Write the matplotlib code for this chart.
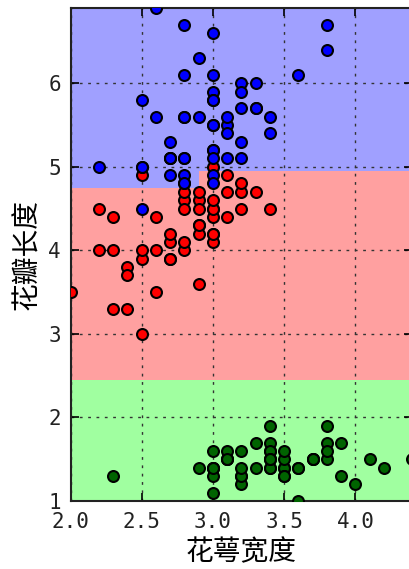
import numpy as np
import matplotlib
matplotlib.use('Agg')
import matplotlib.pyplot as plt
from matplotlib.colors import ListedColormap

plt.rcParams['font.family'] = ['Noto Sans CJK SC', 'DejaVu Sans']
plt.rcParams['axes.unicode_minus'] = False

# iris: sepal width / petal length per class
setosa_sw = [3.5, 3.0, 3.2, 3.1, 3.6, 3.9, 3.4, 3.4, 2.9, 3.1, 3.7, 3.4, 3.0, 3.0, 4.0,
             4.4, 3.9, 3.5, 3.8, 3.8, 3.4, 3.7, 3.6, 3.3, 3.4, 3.0, 3.4, 3.5, 3.4, 3.2,
             3.1, 3.4, 4.1, 4.2, 3.1, 3.2, 3.5, 3.6, 3.0, 3.4, 3.5, 2.3, 3.2, 3.5, 3.8,
             3.0, 3.8, 3.2, 3.7, 3.3]
setosa_pl = [1.4, 1.4, 1.3, 1.5, 1.4, 1.7, 1.4, 1.5, 1.4, 1.5, 1.5, 1.6, 1.4, 1.1, 1.2,
             1.5, 1.3, 1.4, 1.7, 1.5, 1.7, 1.5, 1.0, 1.7, 1.9, 1.6, 1.6, 1.5, 1.4, 1.6,
             1.6, 1.5, 1.5, 1.4, 1.5, 1.2, 1.3, 1.4, 1.3, 1.5, 1.3, 1.3, 1.3, 1.6, 1.9,
             1.4, 1.6, 1.4, 1.5, 1.4]
versicolor_sw = [3.2, 3.2, 3.1, 2.3, 2.8, 2.8, 3.3, 2.4, 2.9, 2.7, 2.0, 3.0, 2.2, 2.9, 2.9,
                 3.1, 3.0, 2.7, 2.2, 2.5, 3.2, 2.8, 2.5, 2.8, 2.9, 3.0, 2.8, 3.0, 2.9, 2.6,
                 2.4, 2.4, 2.7, 2.7, 3.0, 3.4, 3.1, 2.3, 3.0, 2.5, 2.6, 3.0, 2.6, 2.3, 2.7,
                 3.0, 2.9, 2.9, 2.5, 2.8]
versicolor_pl = [4.7, 4.5, 4.9, 4.0, 4.6, 4.5, 4.7, 3.3, 4.6, 3.9, 3.5, 4.2, 4.0, 4.7, 3.6,
                 4.4, 4.5, 4.1, 4.5, 3.9, 4.8, 4.0, 4.9, 4.7, 4.3, 4.4, 4.8, 5.0, 4.5, 3.5,
                 3.8, 3.7, 3.9, 5.1, 4.5, 4.5, 4.7, 4.4, 4.1, 4.0, 4.4, 4.6, 4.0, 3.3, 4.2,
                 4.2, 4.2, 4.3, 3.0, 4.1]
virginica_sw = [3.3, 2.7, 3.0, 2.9, 3.0, 3.0, 2.5, 2.9, 2.5, 3.6, 3.2, 2.7, 3.0, 2.5, 2.8,
                3.2, 3.0, 3.8, 2.6, 2.2, 3.2, 2.8, 2.8, 2.7, 3.3, 3.2, 2.8, 3.0, 2.8, 3.0,
                2.8, 3.8, 2.8, 2.8, 2.6, 3.0, 3.4, 3.1, 3.0, 3.1, 3.1, 3.1, 2.7, 3.2, 3.3,
                3.0, 2.5, 3.0, 3.4, 3.0]
virginica_pl = [6.0, 5.1, 5.9, 5.6, 5.8, 6.6, 4.5, 6.3, 5.8, 6.1, 5.1, 5.3, 5.5, 5.0, 5.1,
                5.3, 5.5, 6.7, 6.9, 5.0, 5.7, 4.9, 6.7, 4.9, 5.7, 6.0, 4.8, 4.9, 5.6, 5.8,
                6.1, 6.4, 5.6, 5.1, 5.6, 6.1, 5.6, 5.5, 4.8, 5.4, 5.6, 5.1, 5.1, 5.9, 5.7,
                5.2, 5.0, 5.2, 5.4, 5.1]

# decision tree split thresholds
pl_split1 = 2.45
pl_split2 = 4.75
pl_split3 = 4.95
sw_split = 2.9


def predict(sw, pl):
    out = np.full(sw.shape, 2)
    out[pl < pl_split3] = 1
    out[(pl >= pl_split2) & (pl < pl_split3) & (sw < sw_split)] = 2
    out[pl < pl_split2] = 1
    out[pl < pl_split1] = 0
    return out


x_min, x_max = 2.0, 4.4
y_min, y_max = 1.0, 6.9

xx, yy = np.meshgrid(np.linspace(x_min, x_max, 500), np.linspace(y_min, y_max, 600))
zz = predict(xx, yy)

cm_light = ListedColormap(['#A0FFA0', '#FFA0A0', '#A0A0FF'])

fig = plt.figure(figsize=(4.09, 5.69), dpi=100)
ax = fig.add_axes([0.1724, 0.1195, 0.836, 0.8665])
ax.pcolormesh(xx, yy, zz, cmap=cm_light, shading='auto', vmin=0, vmax=2)

ax.scatter(setosa_sw, setosa_pl, c='#006400', edgecolors='k', s=62, linewidths=1.5, zorder=3)
ax.scatter(versicolor_sw, versicolor_pl, c='#FF0000', edgecolors='k', s=62, linewidths=1.5, zorder=3)
ax.scatter(virginica_sw, virginica_pl, c='#0000FF', edgecolors='k', s=62, linewidths=1.5, zorder=3)

ax.set_xlim(x_min, x_max)
ax.set_ylim(y_min, y_max)
ax.set_xticks([2.0, 2.5, 3.0, 3.5, 4.0])
ax.set_xticklabels(['2.0', '2.5', '3.0', '3.5', '4.0'])
ax.set_yticks([1, 2, 3, 4, 5, 6])
ax.tick_params(direction='in', length=6, width=1.2, top=True, right=True, labelsize=15)
ax.tick_params(axis='x', pad=8)
ax.tick_params(axis='y', pad=7)
for lbl in ax.get_xticklabels() + ax.get_yticklabels():
    lbl.set_family('DejaVu Sans Mono')
    lbl.set_color('#222222')
ax.grid(True, linestyle=(0, (2, 4)), color='#333333', linewidth=1)
for sp in ax.spines.values():
    sp.set_linewidth(1.5)
    sp.set_color('#222222')

ax.set_xlabel('花萼宽度', fontsize=20, labelpad=4)
ax.set_ylabel('花瓣长度', fontsize=20)

fig.savefig('out.png', dpi=100)
